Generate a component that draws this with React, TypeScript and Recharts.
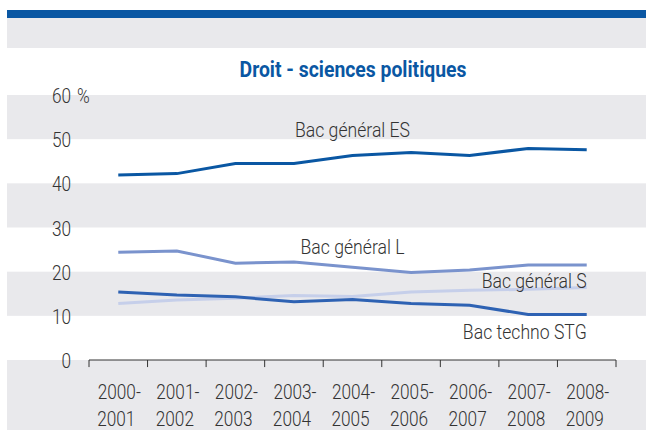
import React from "react";
import {
  LineChart,
  Line,
  XAxis,
  YAxis,
  ReferenceArea,
  ReferenceDot,
  ReferenceLine,
} from "recharts";

const categories = [
  "2000-2001",
  "2001-2002",
  "2002-2003",
  "2003-2004",
  "2004-2005",
  "2005-2006",
  "2006-2007",
  "2007-2008",
  "2008-2009",
];
const bacES = [41.9, 42.2, 44.5, 44.5, 46.3, 47.0, 46.3, 47.9, 47.6];
const bacL = [24.4, 24.7, 21.9, 22.2, 21.0, 19.8, 20.4, 21.5, 21.5];
const bacS = [12.8, 13.6, 14.0, 14.6, 14.4, 15.4, 15.8, 16.0, 16.4];
const bacSTG = [15.4, 14.7, 14.3, 13.2, 13.7, 12.8, 12.4, 10.3, 10.3];
const yTicks = [0, 10, 20, 30, 40, 50, 60];
const bands = [
  [10, 20],
  [30, 40],
  [50, 60],
];

const data = categories.map((c, i) => ({
  i,
  cat: c,
  es: bacES[i],
  l: bacL[i],
  s: bacS[i],
  stg: bacSTG[i],
}));

const FONT = "Roboto, 'Liberation Sans', Arial, sans-serif";
const TXT = "#333";
const GRAY = "#e9e9ec";

const boundaryTicks = categories.map((_, i) => i - 0.5).concat([categories.length - 0.5]);
const centerTicks = categories.map((_, i) => i);

const T = ({ x, y, anchor, sx, size, children }: any) => (
  <g transform={`translate(${x},${y}) scale(${sx},1)`}>
    <text x={0} y={0} textAnchor={anchor} fontSize={size} fill={TXT} fontFamily={FONT} fontWeight={300}>
      {children}
    </text>
  </g>
);

const YTick = (props: any) => {
  const { x, y, payload } = props;
  return (
    <g>
      <T x={x - 10} y={y + 8} anchor="end" sx={0.82} size={21}>
        {payload.value}
      </T>
      {payload.value === 60 ? (
        <T x={x - 4} y={y + 8} anchor="start" sx={0.82} size={21}>
          %
        </T>
      ) : null}
    </g>
  );
};

const XLabelTick = (props: any) => {
  const { x, y, payload } = props;
  const label = categories[payload.value] || "";
  const [a, b] = label.split("-");
  return (
    <g>
      <T x={x + 1} y={y + 31} anchor="middle" sx={0.82} size={21}>
        {a + "-"}
      </T>
      <T x={x - 2} y={y + 58} anchor="middle" sx={0.82} size={21}>
        {b}
      </T>
    </g>
  );
};

const Band = (p: any) => (
  <rect x={7} y={p.y} width={639} height={p.height} fill={GRAY} />
);

const lineLabel = (text: string, anchor: "start" | "middle" | "end") => (p: any) => {
  const { viewBox } = p;
  const x = viewBox.x + (viewBox.width || 0) / 2;
  const y = viewBox.y + (viewBox.height || 0) / 2;
  return (
    <T x={x} y={y + 7} anchor={anchor} sx={0.84} size={21}>
      {text}
    </T>
  );
};

export default function App() {
  return (
    <div style={{ position: "absolute", left: 0, top: 0, width: 646, height: 430, background: "#fff", overflow: "hidden" }}>
      <div style={{ position: "absolute", left: 7, top: 10, width: 639, height: 8, background: "#0a57a3" }} />
      <div style={{ position: "absolute", left: 7, top: 18, width: 639, height: 30, background: GRAY }} />
      <div style={{ position: "absolute", left: 7, top: 360, width: 639, height: 70, background: GRAY }} />
      <div
        style={{
          position: "absolute",
          left: 0,
          width: 706,
          top: 57,
          textAlign: "center",
          fontFamily: FONT,
          fontWeight: "bold",
          fontSize: 22,
          color: "#0a57a3",
          transform: "scaleX(0.88)",
          transformOrigin: "353px 0",
        }}
      >
        Droit - sciences politiques
      </div>
      <div style={{ position: "absolute", left: 0, top: 0 }}>
        <LineChart width={646} height={430} data={data} margin={{ top: 95, right: 30, bottom: 0, left: 0 }}>
          {bands.map(([a, b]) => (
            <ReferenceArea key={a} y1={a} y2={b} shape={Band} ifOverflow="visible" />
          ))}
          <YAxis
            domain={[0, 60]}
            ticks={yTicks}
            width={89}
            axisLine={false}
            tickLine={false}
            tick={<YTick />}
            interval={0}
          />
          <XAxis
            dataKey="i"
            type="number"
            domain={[-0.5, categories.length - 0.5]}
            ticks={centerTicks}
            interval={0}
            height={70}
            axisLine={{ stroke: TXT, strokeWidth: 1 }}
            tickLine={false}
            tick={<XLabelTick />}
          />
          {boundaryTicks.map((b) => (
            <ReferenceLine
              key={b}
              segment={[
                { x: b, y: 0 },
                { x: b, y: -1.6 },
              ]}
              stroke={TXT}
              strokeWidth={1}
              ifOverflow="visible"
            />
          ))}
          <Line dataKey="es" stroke="#0a57a3" strokeWidth={3} dot={false} isAnimationActive={false} />
          <Line dataKey="l" stroke="#7a93cd" strokeWidth={3} dot={false} isAnimationActive={false} />
          <Line dataKey="s" stroke="#c6cfea" strokeWidth={3} dot={false} isAnimationActive={false} />
          <Line dataKey="stg" stroke="#2e62b3" strokeWidth={3} dot={false} isAnimationActive={false} />
          <ReferenceDot x={4.0} y={52.0} r={0} ifOverflow="visible" label={lineLabel("Bac général ES", "middle")} />
          <ReferenceDot x={4.0} y={25.6} r={0} ifOverflow="visible" label={lineLabel("Bac général L", "middle")} />
          <ReferenceDot x={8.0} y={17.9} r={0} ifOverflow="visible" label={lineLabel("Bac général S", "end")} />
          <ReferenceDot x={8.0} y={6.3} r={0} ifOverflow="visible" label={lineLabel("Bac techno STG", "end")} />
        </LineChart>
      </div>
    </div>
  );
}
